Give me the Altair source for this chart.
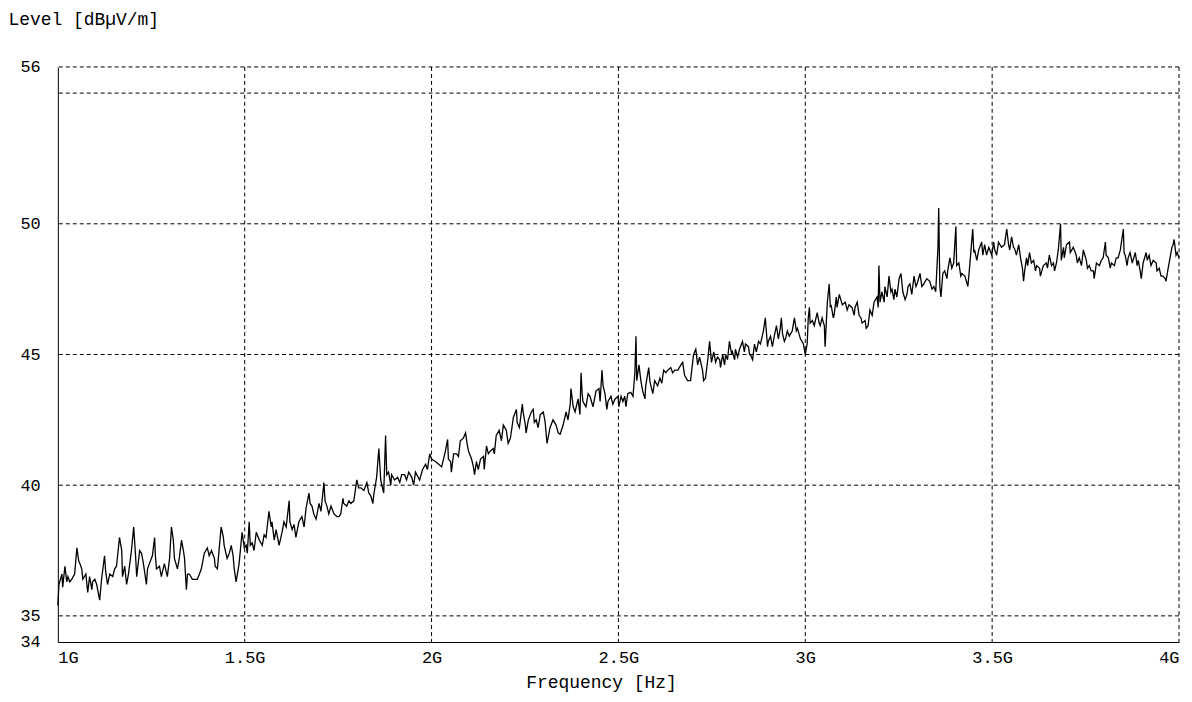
import altair as alt
import pandas as pd

freq_mhz = [
    1000, 1003, 1011, 1013, 1019, 1024, 1027, 1032, 1037, 1045, 1051, 1056, 1059, 1064, 1067, 1075,
    1080, 1085, 1091, 1093, 1099, 1104, 1112, 1117, 1125, 1128, 1133, 1139, 1147, 1152, 1157, 1165,
    1171, 1173, 1179, 1184, 1189, 1197, 1203, 1208, 1211, 1219, 1224, 1229, 1237, 1240, 1245, 1253,
    1259, 1261, 1264, 1272, 1277, 1285, 1293, 1299, 1304, 1309, 1312, 1320, 1325, 1331, 1336, 1339,
    1344, 1347, 1352, 1360, 1365, 1373, 1379, 1384, 1392, 1400, 1405, 1411, 1419, 1421, 1427, 1432,
    1437, 1443, 1445, 1453, 1459, 1464, 1469, 1472, 1477, 1485, 1493, 1499, 1504, 1507, 1512, 1515,
    1520, 1525, 1531, 1539, 1547, 1552, 1557, 1565, 1571, 1573, 1579, 1584, 1592, 1600, 1605, 1611,
    1619, 1621, 1627, 1632, 1637, 1645, 1653, 1659, 1664, 1672, 1675, 1680, 1685, 1691, 1699, 1704,
    1707, 1712, 1715, 1720, 1725, 1731, 1739, 1747, 1752, 1757, 1763, 1765, 1773, 1779, 1784, 1792,
    1800, 1805, 1811, 1819, 1827, 1832, 1837, 1843, 1845, 1853, 1859, 1864, 1867, 1872, 1877, 1880,
    1885, 1891, 1893, 1901, 1909, 1915, 1920, 1928, 1933, 1939, 1947, 1952, 1957, 1968, 1976, 1984,
    1989, 1995, 2000, 2011, 2019, 2027, 2032, 2037, 2043, 2045, 2051, 2053, 2059, 2067, 2072, 2077,
    2085, 2091, 2096, 2099, 2107, 2112, 2115, 2120, 2125, 2131, 2139, 2141, 2147, 2152, 2157, 2165,
    2168, 2173, 2181, 2187, 2192, 2200, 2205, 2211, 2219, 2227, 2229, 2235, 2243, 2245, 2251, 2253,
    2259, 2267, 2272, 2275, 2280, 2285, 2291, 2299, 2304, 2307, 2309, 2317, 2325, 2333, 2339, 2344,
    2352, 2360, 2365, 2371, 2373, 2379, 2384, 2392, 2397, 2400, 2403, 2405, 2413, 2419, 2424, 2432,
    2440, 2448, 2451, 2456, 2459, 2464, 2469, 2472, 2480, 2485, 2491, 2499, 2501, 2507, 2512, 2517,
    2520, 2525, 2533, 2539, 2544, 2547, 2549, 2555, 2560, 2565, 2571, 2573, 2581, 2584, 2587, 2592,
    2597, 2605, 2611, 2616, 2621, 2627, 2632, 2640, 2645, 2651, 2659, 2667, 2672, 2677, 2685, 2693,
    2701, 2707, 2712, 2717, 2725, 2728, 2733, 2739, 2744, 2749, 2755, 2760, 2765, 2771, 2773, 2779,
    2784, 2787, 2792, 2797, 2803, 2805, 2811, 2813, 2819, 2824, 2832, 2837, 2840, 2848, 2851, 2853,
    2859, 2864, 2869, 2875, 2880, 2888, 2893, 2899, 2901, 2907, 2912, 2917, 2923, 2928, 2933, 2936,
    2939, 2944, 2947, 2952, 2957, 2965, 2971, 2976, 2979, 2987, 2995, 3000, 3005, 3008, 3011, 3013,
    3019, 3024, 3027, 3032, 3037, 3040, 3045, 3051, 3053, 3059, 3064, 3067, 3069, 3075, 3077, 3083,
    3085, 3091, 3099, 3107, 3112, 3117, 3125, 3131, 3133, 3139, 3144, 3149, 3152, 3160, 3163, 3168,
    3173, 3179, 3184, 3192, 3195, 3197, 3200, 3205, 3211, 3213, 3219, 3224, 3229, 3232, 3237, 3240,
    3245, 3251, 3256, 3261, 3267, 3272, 3275, 3280, 3285, 3291, 3296, 3299, 3307, 3312, 3317, 3325,
    3333, 3339, 3344, 3349, 3355, 3357, 3360, 3363, 3368, 3373, 3379, 3381, 3387, 3392, 3397, 3403,
    3405, 3411, 3416, 3419, 3427, 3435, 3440, 3448, 3451, 3453, 3459, 3464, 3472, 3475, 3480, 3485,
    3491, 3499, 3504, 3507, 3512, 3517, 3525, 3533, 3539, 3544, 3547, 3552, 3557, 3560, 3565, 3571,
    3576, 3581, 3584, 3587, 3592, 3595, 3600, 3605, 3611, 3616, 3619, 3627, 3629, 3637, 3645, 3648,
    3653, 3659, 3664, 3667, 3672, 3677, 3683, 3685, 3691, 3693, 3699, 3707, 3709, 3717, 3725, 3728,
    3733, 3739, 3744, 3752, 3755, 3760, 3765, 3771, 3773, 3779, 3787, 3792, 3797, 3803, 3805, 3811,
    3816, 3819, 3827, 3832, 3837, 3843, 3851, 3853, 3856, 3861, 3864, 3869, 3875, 3877, 3883, 3888,
    3891, 3896, 3899, 3904, 3912, 3915, 3920, 3925, 3931, 3939, 3941, 3947, 3952, 3957, 3963, 3965,
    3971, 3976, 3981, 3984, 3987, 3992, 3995, 4000,
]

level_dbuv = [
    35.4, 36.2, 36.6, 36.1, 36.9, 36.3, 36.5, 36.3, 36.4, 36.6, 37.6, 37.1, 37.0, 36.8, 36.4, 36.6,
    35.9, 36.5, 36.0, 36.3, 36.4, 36.2, 35.6, 36.4, 37.3, 36.7, 36.2, 36.6, 36.5, 36.8, 36.9, 38.0,
    37.5, 36.5, 36.9, 36.2, 36.6, 37.5, 38.4, 37.3, 36.5, 37.5, 37.4, 37.0, 36.2, 36.8, 37.0, 37.3,
    38.0, 37.3, 36.8, 36.9, 36.5, 37.0, 36.5, 37.2, 38.4, 37.9, 37.2, 36.8, 37.2, 37.9, 37.5, 37.2,
    36.0, 36.6, 36.6, 36.4, 36.4, 36.4, 36.6, 36.8, 37.4, 37.6, 37.3, 37.5, 37.2, 36.9, 36.8, 37.6,
    38.4, 38.0, 37.7, 37.2, 37.4, 37.7, 37.3, 36.8, 36.3, 37.0, 38.2, 37.6, 37.7, 37.4, 38.6, 37.7,
    37.8, 37.5, 38.2, 37.9, 37.7, 38.1, 38.0, 39.0, 38.4, 38.6, 37.9, 38.3, 37.7, 38.2, 38.6, 38.4,
    39.4, 38.6, 38.3, 38.5, 38.0, 38.6, 38.8, 38.4, 39.1, 39.7, 39.3, 39.2, 38.9, 38.7, 39.3, 39.0,
    39.4, 40.1, 39.4, 39.2, 38.9, 39.2, 38.9, 38.8, 38.8, 38.9, 39.5, 39.3, 39.2, 39.4, 39.3, 39.4,
    40.2, 39.9, 39.9, 39.8, 40.1, 39.7, 39.6, 39.3, 39.6, 40.3, 41.4, 40.2, 40.0, 39.7, 41.9, 40.4,
    40.5, 40.0, 40.4, 40.2, 40.3, 40.1, 40.4, 40.4, 40.2, 40.5, 40.3, 40.0, 40.5, 40.2, 40.6, 40.8,
    40.6, 41.2, 41.0, 40.9, 40.8, 40.7, 41.0, 41.3, 41.75, 41.0, 40.9, 40.5, 41.2, 41.2, 41.1, 41.7,
    41.8, 42.0, 41.5, 41.3, 41.0, 40.7, 40.4, 40.9, 40.6, 41.0, 41.1, 40.6, 41.5, 41.2, 41.3, 41.4,
    41.2, 41.9, 42.1, 41.7, 42.3, 42.1, 41.6, 41.8, 42.6, 42.9, 42.4, 42.2, 43.1, 42.8, 42.3, 42.0,
    42.5, 42.8, 42.9, 42.4, 42.5, 42.2, 42.7, 42.8, 42.4, 41.9, 41.6, 42.2, 42.5, 42.3, 42.0, 41.95,
    42.3, 42.8, 42.5, 43.1, 43.7, 43.0, 42.8, 43.3, 42.7, 44.3, 43.5, 43.2, 43.0, 43.5, 43.4, 43.0,
    43.6, 43.7, 43.2, 44.4, 43.8, 43.5, 42.9, 43.2, 43.4, 43.1, 43.3, 43.4, 43.0, 43.4, 43.2, 43.4,
    43.0, 43.5, 43.55, 43.4, 44.3, 45.7, 44.0, 44.6, 44.0, 43.6, 43.3, 43.8, 44.5, 44.0, 43.8, 43.5,
    44.0, 43.8, 44.1, 43.9, 44.4, 44.3, 44.4, 44.5, 44.3, 44.4, 44.4, 44.6, 44.7, 44.2, 44.0, 44.0,
    45.0, 45.2, 44.6, 44.9, 44.4, 44.0, 44.1, 44.8, 45.5, 44.7, 45.1, 44.7, 44.9, 44.8, 44.5, 45.0,
    44.6, 45.0, 44.8, 45.5, 45.0, 45.1, 44.8, 45.2, 44.9, 45.2, 45.5, 45.1, 45.4, 45.3, 45.0, 45.0,
    44.8, 45.4, 45.1, 45.5, 45.4, 45.9, 46.4, 45.3, 45.5, 45.7, 45.3, 45.7, 46.1, 45.6, 46.0, 46.4,
    45.8, 45.5, 45.6, 45.9, 45.7, 45.9, 46.4, 45.9, 46.0, 45.6, 45.4, 45.0, 45.4, 46.4, 46.8, 46.2,
    46.3, 46.1, 46.3, 46.6, 46.2, 46.1, 46.4, 46.1, 45.3, 47.0, 47.7, 46.8, 46.9, 46.4, 46.5, 47.2,
    46.8, 47.3, 46.9, 47.0, 46.7, 46.9, 46.8, 46.5, 46.8, 47.0, 46.5, 46.4, 46.2, 46.3, 46.0, 46.1,
    46.7, 46.5, 47.0, 47.2, 46.8, 48.4, 47.0, 47.4, 47.0, 47.6, 47.2, 48.0, 47.4, 47.5, 47.1, 47.5,
    47.2, 47.9, 48.1, 47.4, 47.1, 47.3, 47.6, 47.7, 47.3, 48.0, 47.6, 47.7, 48.1, 47.6, 47.7, 47.9,
    47.8, 47.5, 47.6, 47.4, 49.1, 50.6, 47.6, 47.2, 48.1, 48.2, 47.9, 48.2, 48.7, 48.3, 48.5, 49.9,
    48.4, 48.5, 48.0, 48.1, 48.0, 47.6, 48.4, 49.8, 48.9, 49.0, 48.6, 49.0, 49.3, 48.8, 49.2, 48.8,
    49.1, 48.8, 49.3, 49.0, 48.8, 49.3, 49.1, 49.2, 49.8, 49.2, 49.0, 49.5, 49.1, 49.05, 48.8, 49.2,
    48.7, 48.3, 47.8, 48.2, 48.7, 48.4, 48.9, 48.5, 48.6, 48.2, 48.4, 48.3, 48.0, 48.4, 48.5, 48.3,
    48.8, 48.4, 48.5, 48.2, 48.5, 49.0, 50.0, 48.6, 49.1, 48.7, 49.2, 49.3, 48.9, 49.1, 48.8, 48.5,
    48.7, 48.4, 49.0, 48.6, 48.3, 48.4, 48.2, 48.2, 47.9, 48.5, 48.4, 48.6, 48.7, 49.3, 48.8, 48.7,
    48.3, 48.5, 48.4, 48.7, 48.7, 49.0, 49.8, 48.9, 48.8, 48.4, 48.7, 48.9, 48.5, 48.6, 48.9, 48.4,
    48.6, 48.2, 47.9, 48.5, 48.9, 48.6, 48.8, 48.4, 48.6, 48.5, 48.2, 48.3, 48.0, 48.0, 47.9, 47.8,
    48.3, 48.7, 49.1, 49.2, 49.4, 48.8, 48.9, 48.7,
]

# Grid positions
x_grid_ghz = [1.5, 2.0, 2.5, 3.0, 3.5, 4.0]
y_grid_db = [35, 40, 45, 50, 55, 56]
x_tick_ghz = [1.0, 1.5, 2.0, 2.5, 3.0, 3.5, 4.0]
y_tick_db = [34, 35, 40, 45, 50, 56]

FONT = "Liberation Mono"

trace = pd.DataFrame({"freq": [f / 1000 for f in freq_mhz], "level": level_dbuv})
trace["order"] = range(len(trace))

x_scale = alt.Scale(domain=[1, 4], nice=False, zero=False)
y_scale = alt.Scale(domain=[34, 56], nice=False, zero=False)

line = alt.Chart(trace).mark_line(color="black", strokeWidth=1.3, interpolate="linear").encode(
    x=alt.X(
        "freq:Q",
        scale=x_scale,
        axis=alt.Axis(
            values=x_tick_ghz,
            labelExpr="datum.value + 'G'",
            title="Frequency [Hz]",
            titleX=545,
            grid=False,
            ticks=False,
            domainColor="black",
            labelFlush=True,
            labelPadding=8,
            titlePadding=8,
            labelFontSize=17,
            titleFontSize=18,
        ),
    ),
    y=alt.Y(
        "level:Q",
        scale=y_scale,
        axis=alt.Axis(
            values=y_tick_db,
            title="Level [dBµV/m]",
            titleAngle=0,
            titleAlign="left",
            titleBaseline="middle",
            titleX=-50,
            titleY=-48,
            grid=False,
            ticks=False,
            domainColor="black",
            labelAlign="left",
            labelPadding=38,
            labelFontSize=17,
            titleFontSize=18,
        ),
    ),
    order="order:Q",
)

hgrid = alt.Chart(pd.DataFrame({"y": y_grid_db})).mark_rule(
    color="black", strokeWidth=1, strokeDash=[4, 3]
).encode(y=alt.Y("y:Q", scale=y_scale))

vgrid = alt.Chart(pd.DataFrame({"x": x_grid_ghz})).mark_rule(
    color="black", strokeWidth=1, strokeDash=[4, 3]
).encode(x=alt.X("x:Q", scale=x_scale))

chart = (
    alt.layer(hgrid, vgrid, line)
    .properties(
        width=1125,
        height=577,
        autosize=alt.AutoSizeParams(type="none"),
        padding={"left": 50, "top": 58, "right": 5, "bottom": 50},
        background="white",
    )
    .configure_view(stroke=None)
    .configure_axis(
        labelFont=FONT,
        titleFont=FONT,
        labelColor="black",
        titleColor="black",
        titleFontWeight="normal",
        domainWidth=1,
    )
)

chart.save("out.html", embed_options={"renderer": "svg", "actions": False})
